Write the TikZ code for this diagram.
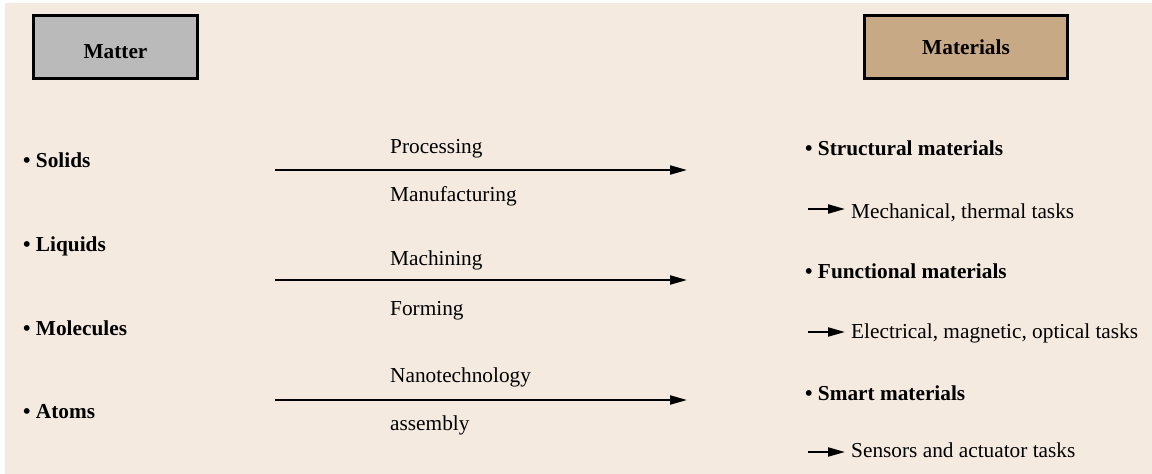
\documentclass[tikz,border=0pt]{standalone}
\usepackage{fontspec}
\setmainfont{Liberation Serif}
\usetikzlibrary{arrows.meta}
\definecolor{paper}{HTML}{F4EAE0}
\definecolor{mattergray}{HTML}{BABABA}
\definecolor{materialtan}{HTML}{C8A985}
\begin{document}
\begin{tikzpicture}[x=1pt,y=-1pt,
  every node/.style={inner sep=0pt, font=\fontsize{21.3}{25}\selectfont},
  header/.style={draw=black, line width=3pt, minimum width=164pt, minimum height=63pt,
    font=\fontsize{21.3}{25}\selectfont\bfseries, text depth=0pt},
  item/.style={anchor=base west, font=\fontsize{21.3}{25}\selectfont\bfseries},
  plain/.style={anchor=base west},
  flow/.style={line width=2pt, -{Triangle[length=17pt,width=9pt]}},
]
\useasboundingbox (0,0) rectangle (1152,474);
\fill[white] (0,0) rectangle (1152,474);
\fill[paper] (5,3) rectangle (1152,474);

% header boxes
\node[header, fill=mattergray, text height=22pt] (matter) at (115.5,47) {Matter};
\node[header, fill=materialtan, minimum width=203pt, text height=14pt] (materials) at (966,47) {Materials};

% forms of matter
\node[item] (solids)    at (23,167) {• Solids};
\node[item] (liquids)   at (23,251) {• Liquids};
\node[item] (molecules) at (23,335) {• Molecules};
\node[item] (atoms)     at (23,418) {• Atoms};

% transformation routes
\coordinate (r1s) at (275,170); \coordinate (r1e) at (687,170);
\coordinate (r2s) at (275,280); \coordinate (r2e) at (687,280);
\coordinate (r3s) at (275,400); \coordinate (r3e) at (687,400);
\draw[flow] (r1s) -- (r1e);
\draw[flow] (r2s) -- (r2e);
\draw[flow] (r3s) -- (r3e);

\node[plain] (processing)    at (390,153) {Processing};
\node[plain] (manufacturing) at (390,201) {Manufacturing};
\node[plain] (machining)     at (390,265) {Machining};
\node[plain] (forming)       at (390,315) {Forming};
\node[plain] (nanotech)      at (390,382) {Nanotechnology};
\node[plain] (assembly)      at (390,430) {assembly};

% classes of materials
\node[item] (structural) at (805,155) {• Structural materials};
\node[item] (functional) at (805,278) {• Functional materials};
\node[item] (smart)      at (805,400) {• Smart materials};

\coordinate (t1) at (808,209);
\coordinate (t2) at (808,332);
\coordinate (t3) at (808,452);
\draw[flow] (t1) -- ++(37,0);
\draw[flow] (t2) -- ++(37,0);
\draw[flow] (t3) -- ++(37,0);

\node[plain] (mechanical) at (851,218) {Mechanical, thermal tasks};
\node[plain] (electrical) at (851,338) {Electrical, magnetic, optical tasks};
\node[plain] (sensors)    at (851,457) {Sensors and actuator tasks};
\end{tikzpicture}
\end{document}
